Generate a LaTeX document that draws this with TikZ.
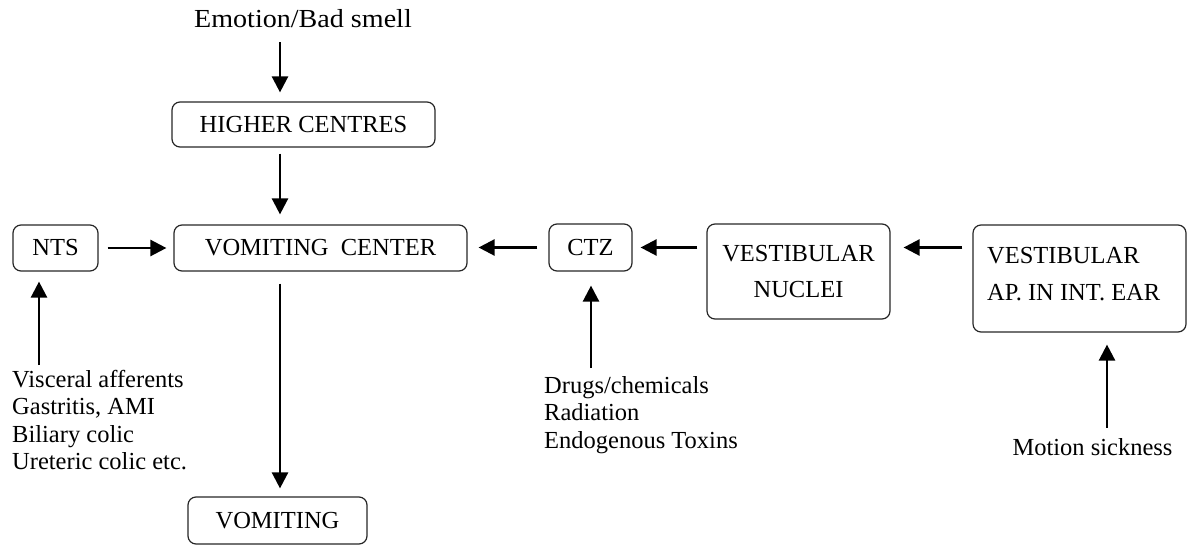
\documentclass[tikz,border=0pt]{standalone}
\usepackage{fontspec}
\setmainfont{Liberation Serif}
\usetikzlibrary{arrows.meta,calc}
\begin{document}
\begin{tikzpicture}[x=1pt,y=-1pt,
  box/.style={draw=black!85, line width=1.2pt, rounded corners=8pt, inner sep=0pt, align=center},
  txt/.style={inner sep=0pt, align=left},
  arr/.style={line width=2.5pt, -{Triangle[length=16pt,width=16pt]}},
  every node/.style={font=\fontsize{24.5}{27.5}\selectfont}]
\useasboundingbox (0,0) rectangle (1188,545);
% boxes
\node[box, minimum width=263, minimum height=45] (hc) at (303.5,124.5) {HIGHER CENTRES};
\node[box, minimum width=85, minimum height=46] (nts) at (55.5,248) {NTS};
\node[box, minimum width=293, minimum height=46] (vc) at (320.5,248) {VOMITING\ \ CENTER};
\node[box, minimum width=83, minimum height=47] (ctz) at (590.5,247.5) {CTZ};
\node[box, minimum width=183, minimum height=95] (vn) at (798.5,271.5) {VESTIBULAR\\[8.5pt]NUCLEI};
\node[box, minimum width=213, minimum height=107] (vap) at (1079.5,278.5) {};
\node[txt, anchor=north west] (vaptext) at (987,247.5) {VESTIBULAR\\[9pt]AP. IN INT. EAR};
\node[box, minimum width=179, minimum height=47] (vom) at (277.5,520.5) {VOMITING};
% free texts
\node[txt, anchor=base] (emo) at (303,28) {\fontsize{26}{28}\selectfont\scalebox{1.08}[1]{Emotion/Bad smell}};
\node[txt, anchor=north west] (vis) at (12,370) {Visceral afferents\\Gastritis, AMI\\Biliary colic\\Ureteric colic etc.};
\node[txt, anchor=north west] (drugs) at (544,376) {Drugs/chemicals\\Radiation\\Endogenous Toxins};
\node[txt, anchor=base] (motion) at (1092.5,455) {Motion sickness};
% arrow columns
\coordinate (ax) at (280,0);
\coordinate (bx) at (39,0);
\coordinate (dx) at (591,0);
\coordinate (mx) at (1107,0);
% connectors
\draw[arr, shorten <=14pt, shorten >=9pt] (ax |- emo.south) -- (ax |- hc.north);
\draw[arr, shorten <=6pt, shorten >=10pt] (ax |- hc.south) -- (ax |- vc.north);
\draw[arr, shorten <=9pt, shorten >=7pt] (nts.east) -- (vc.west);
\draw[arr, shorten <=11pt, shorten >=11pt] (ctz.west) -- (ctz.west -| vc.east);
\draw[arr, shorten <=9pt, shorten >=8pt] (vn.west |- ctz.west) -- (ctz.east);
\draw[arr, shorten <=10pt, shorten >=13pt] (vap.west |- ctz.west) -- (vn.east |- ctz.west);
\draw[arr, shorten <=12pt, shorten >=8pt] (ax |- vc.south) -- (ax |- vom.north);
\draw[arr, shorten <=5pt, shorten >=10pt] (bx |- vis.north) -- (bx |- nts.south);
\draw[arr, shorten <=8pt, shorten >=14pt] (dx |- drugs.north) -- (dx |- ctz.south);
\draw[arr, shorten <=10pt, shorten >=12pt] (mx |- motion.north) -- (mx |- vap.south);
\end{tikzpicture}
\end{document}
